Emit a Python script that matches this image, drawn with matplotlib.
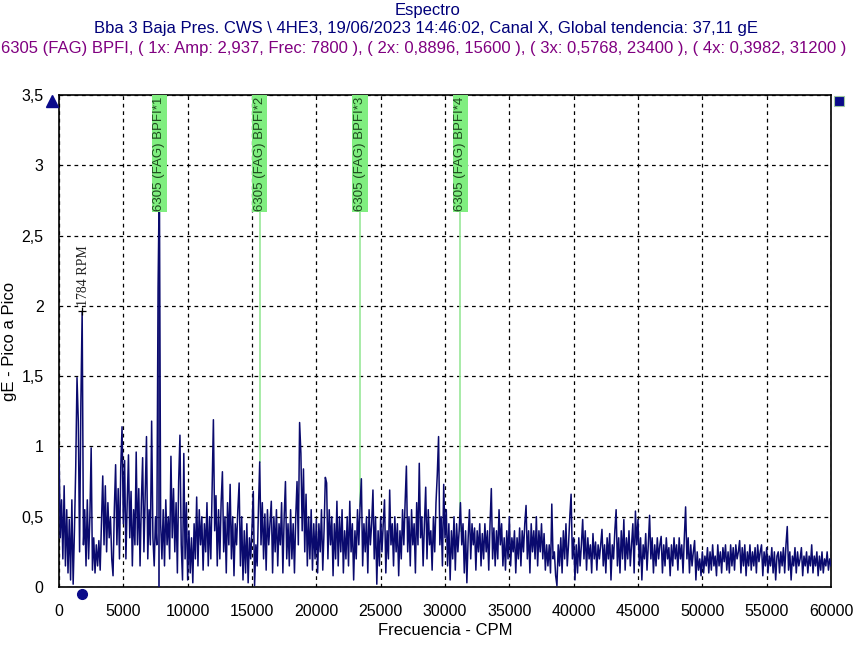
import numpy as np
import matplotlib
matplotlib.use("Agg")
import matplotlib.pyplot as plt

# ---------------- data ----------------
freq_step = 100  # CPM between spectral points
amp = [
 0.98,0.35,0.62,0.2,0.72,0.15,0.55,0.1,0.48,0.05,0.62,0.02,0.4,0.85,1.49,1.18,0.25,1.31,1.96,0.3,
 0.55,0.15,0.62,0.2,0.5,0.99,0.12,0.35,0.1,0.3,0.15,0.33,0.12,0.45,0.79,0.3,0.72,0.25,0.6,0.35,
 0.5,0.2,0.08,0.55,0.87,0.3,0.7,0.2,0.85,1.14,0.45,0.9,0.2,0.6,0.94,0.35,0.68,0.15,0.55,0.3,
 0.96,0.3,0.7,0.15,0.6,0.92,0.25,0.65,1.07,0.2,0.55,0.3,1.18,0.35,0.15,0.5,0.3,2.13,2.937,0.45,
 0.2,0.55,0.15,0.62,0.3,0.5,0.2,0.93,0.35,0.7,0.25,0.6,0.1,0.75,1.08,0.3,0.05,0.95,0.2,0.6,
 0.05,0.4,0.1,0.35,0.03,0.45,0.2,0.64,0.15,0.55,0.3,0.5,0.12,0.45,0.25,0.6,0.15,0.5,0.2,0.7,
 1.19,0.4,0.65,0.15,0.55,0.2,0.6,0.82,0.25,0.5,0.1,0.6,0.3,0.73,0.2,0.5,0.08,0.45,0.3,0.55,
 0.74,0.15,0.5,0.05,0.4,0.1,0.45,0.03,0.35,0.2,0.42,0.68,0.01,0.3,0.15,0.55,0.89,0.3,0.6,0.2,
 0.52,0.12,0.55,0.3,0.45,0.61,0.1,0.5,0.25,0.55,0.15,0.45,0.3,0.6,0.1,0.5,0.75,0.2,0.45,0.15,
 0.55,0.2,0.45,0.1,0.5,0.75,0.3,1.17,0.95,0.4,0.84,0.25,0.66,0.15,0.5,0.2,0.55,0.12,0.45,0.2,
 0.48,0.1,0.45,0.25,0.55,0.12,0.4,0.78,0.74,0.2,0.55,0.3,0.5,0.08,0.45,0.2,0.61,0.15,0.5,0.25,
 0.55,0.1,0.4,0.2,0.5,0.15,0.61,0.25,0.45,0.05,0.4,0.2,0.55,0.3,0.58,0.77,0.15,0.45,0.25,0.5,
 0.1,0.55,0.3,0.45,0.69,0.2,0.5,0.02,0.4,0.15,0.5,0.25,0.45,0.62,0.1,0.4,0.2,0.69,0.3,0.45,
 0.15,0.5,0.25,0.45,0.08,0.4,0.2,0.55,0.3,0.6,0.86,0.25,0.5,0.15,0.55,0.3,0.45,0.1,0.6,0.3,
 0.88,0.35,0.5,0.15,0.45,0.71,0.2,0.55,0.3,0.4,0.12,0.5,0.25,0.6,0.8,1.07,0.3,0.5,0.15,0.73,
 0.35,0.55,0.15,0.45,0.05,0.4,0.2,0.5,0.12,0.45,0.25,0.4,0.6,0.3,0.45,0.1,0.4,0.03,0.35,0.55,
 0.2,0.45,0.3,0.42,0.12,0.4,0.25,0.45,0.15,0.38,0.2,0.45,0.25,0.4,0.12,0.45,0.7,0.2,0.42,0.15,
 0.4,0.2,0.55,0.3,0.45,0.15,0.35,0.12,0.4,0.2,0.5,0.15,0.35,0.25,0.4,0.1,0.35,0.2,0.42,0.15,
 0.4,0.25,0.45,0.58,0.2,0.4,0.1,0.45,0.25,0.4,0.2,0.5,0.15,0.4,0.25,0.45,0.2,0.38,0.12,0.3,
 0.15,0.3,0.1,0.59,0.2,0.25,0.08,0.01,0.3,0.15,0.35,0.1,0.4,0.2,0.45,0.15,0.3,0.5,0.66,0.2,
 0.35,0.05,0.3,0.1,0.35,0.15,0.3,0.48,0.2,0.4,0.12,0.35,0.2,0.3,0.1,0.38,0.2,0.32,0.12,0.3,
 0.2,0.3,0.41,0.15,0.3,0.1,0.35,0.2,0.38,0.05,0.3,0.2,0.4,0.55,0.15,0.35,0.1,0.4,0.2,0.48,
 0.12,0.35,0.2,0.4,0.15,0.3,0.45,0.1,0.54,0.3,0.48,0.15,0.35,0.05,0.3,0.2,0.38,0.12,0.3,0.51,
 0.2,0.35,0.1,0.3,0.15,0.35,0.2,0.3,0.36,0.1,0.3,0.15,0.35,0.2,0.28,0.08,0.3,0.15,0.35,0.2,
 0.3,0.12,0.35,0.2,0.3,0.1,0.35,0.57,0.2,0.35,0.1,0.3,0.15,0.25,0.33,0.05,0.25,0.12,0.2,0.08,
 0.25,0.1,0.22,0.15,0.28,0.1,0.25,0.12,0.3,0.15,0.22,0.08,0.3,0.15,0.25,0.1,0.28,0.18,0.3,0.12,
 0.25,0.1,0.3,0.15,0.28,0.12,0.3,0.2,0.25,0.33,0.1,0.28,0.15,0.3,0.08,0.25,0.15,0.3,0.12,0.25,
 0.15,0.28,0.1,0.3,0.18,0.25,0.3,0.08,0.25,0.15,0.28,0.1,0.22,0.15,0.28,0.1,0.25,0.05,0.22,0.25,
 0.1,0.25,0.15,0.28,0.1,0.3,0.43,0.12,0.25,0.05,0.22,0.15,0.28,0.1,0.25,0.15,0.2,0.28,0.08,0.22,
 0.15,0.25,0.1,0.22,0.15,0.3,0.1,0.22,0.15,0.25,0.08,0.22,0.12,0.25,0.1,0.2,0.15,0.25,0.12,0.2,
 0.15,
]
bpfi_freq = [7800, 15600, 23400, 31200]
bpfi_amp = [2.937, 0.8896, 0.5768, 0.3982]
bpfi_labels = ["6305 (FAG) BPFI*1", "6305 (FAG) BPFI*2", "6305 (FAG) BPFI*3", "6305 (FAG) BPFI*4"]
rpm_freq = 1784
rpm_amp = 1.96
rpm_label = "1784 RPM"
x_ticks = list(range(0, 60001, 5000))
y_ticks = [0, 0.5, 1, 1.5, 2, 2.5, 3, 3.5]
y_tick_labels = ["0", "0,5", "1", "1,5", "2", "2,5", "3", "3,5"]
title1 = "Espectro"
title2 = "Bba 3 Baja Pres. CWS \\ 4HE3, 19/06/2023 14:46:02, Canal X, Global tendencia: 37,11 gE"
title3 = "6305 (FAG) BPFI, ( 1x: Amp: 2,937, Frec: 7800 ), ( 2x: 0,8896, 15600 ), ( 3x: 0,5768, 23400 ), ( 4x: 0,3982, 31200 )"

# ---------------- figure ----------------
plt.rcParams['font.family'] = ['Liberation Sans', 'DejaVu Sans']
W, H = 857, 645
fig = plt.figure(figsize=(W/100, H/100), dpi=100)
ax = fig.add_axes([59/W, 1-587/H, (831-59)/W, (587-95)/H])

freqs = np.arange(len(amp)) * freq_step
navy = '#0a0a6e'
ax.plot(freqs, amp, color=navy, lw=1.1, zorder=3)

ax.set_xlim(0, 60000)
ax.set_ylim(0, 3.5)
ax.set_xticks(x_ticks)
ax.set_xticklabels([str(t) for t in x_ticks])
ax.set_yticks(y_ticks)
ax.set_yticklabels(y_tick_labels)
ax.tick_params(length=0, labelsize=11.5, colors='black')
ax.tick_params(axis='x', pad=12)
ax.tick_params(axis='y', pad=11)
ax.grid(True, color='black', linestyle=(0, (3, 3)), lw=0.9, zorder=1)
for s in ax.spines.values():
    s.set_color('black')
    s.set_linewidth(1.2)

ax.set_xlabel("Frecuencia - CPM", fontsize=12, labelpad=3)
ax.set_ylabel("gE - Pico a Pico", fontsize=12, labelpad=3)

# BPFI harmonic markers
label_bottom = 2.67
for f, a, lab in zip(bpfi_freq, bpfi_amp, bpfi_labels):
    ax.plot([f, f], [min(a, label_bottom), label_bottom], color='#98e898', lw=1.2, zorder=2)
    ax.text(f, 3.49, lab, rotation=90, ha='center', va='top', fontsize=9.5,
            color='#1e4a1e', zorder=5,
            bbox=dict(boxstyle='square,pad=0.12', fc='#80ee80', ec='none'))
# draw the 1x peak over the green line
ax.plot([7800, 7800], [0, 2.937], color=navy, lw=1.2, zorder=4)

# running speed
ax.plot([rpm_freq], [rpm_amp], marker='+', color='black', ms=6, mew=0.9, zorder=5)
ax.text(rpm_freq + 100, rpm_amp + 0.04, rpm_label, rotation=90, ha='center', va='bottom',
        fontsize=10, family='Liberation Serif', color='#222222', zorder=5)

# cursors
ax.plot([-545], [3.46], marker='^', color='#0a0a8a', ms=8, clip_on=False, zorder=6)
ax.plot([60600], [3.46], marker='s', color='#0a0a8a', ms=6.5, mec='#a0c8a0', mew=0.8, clip_on=False, zorder=6)
ax.plot([rpm_freq], [-0.05], marker='o', color='#0a0a8a', ms=7, clip_on=False, zorder=6)

# titles
fig.text(428/W, 1-10/H, title1, ha='center', va='center', fontsize=12, color='#00007a')
fig.text(426/W, 1-29/H, title2, ha='center', va='center', fontsize=12, color='#00007a')
fig.text(424/W, 1-48/H, title3, ha='center', va='center', fontsize=12, color='#800080')

fig.savefig("out.png", dpi=100)
